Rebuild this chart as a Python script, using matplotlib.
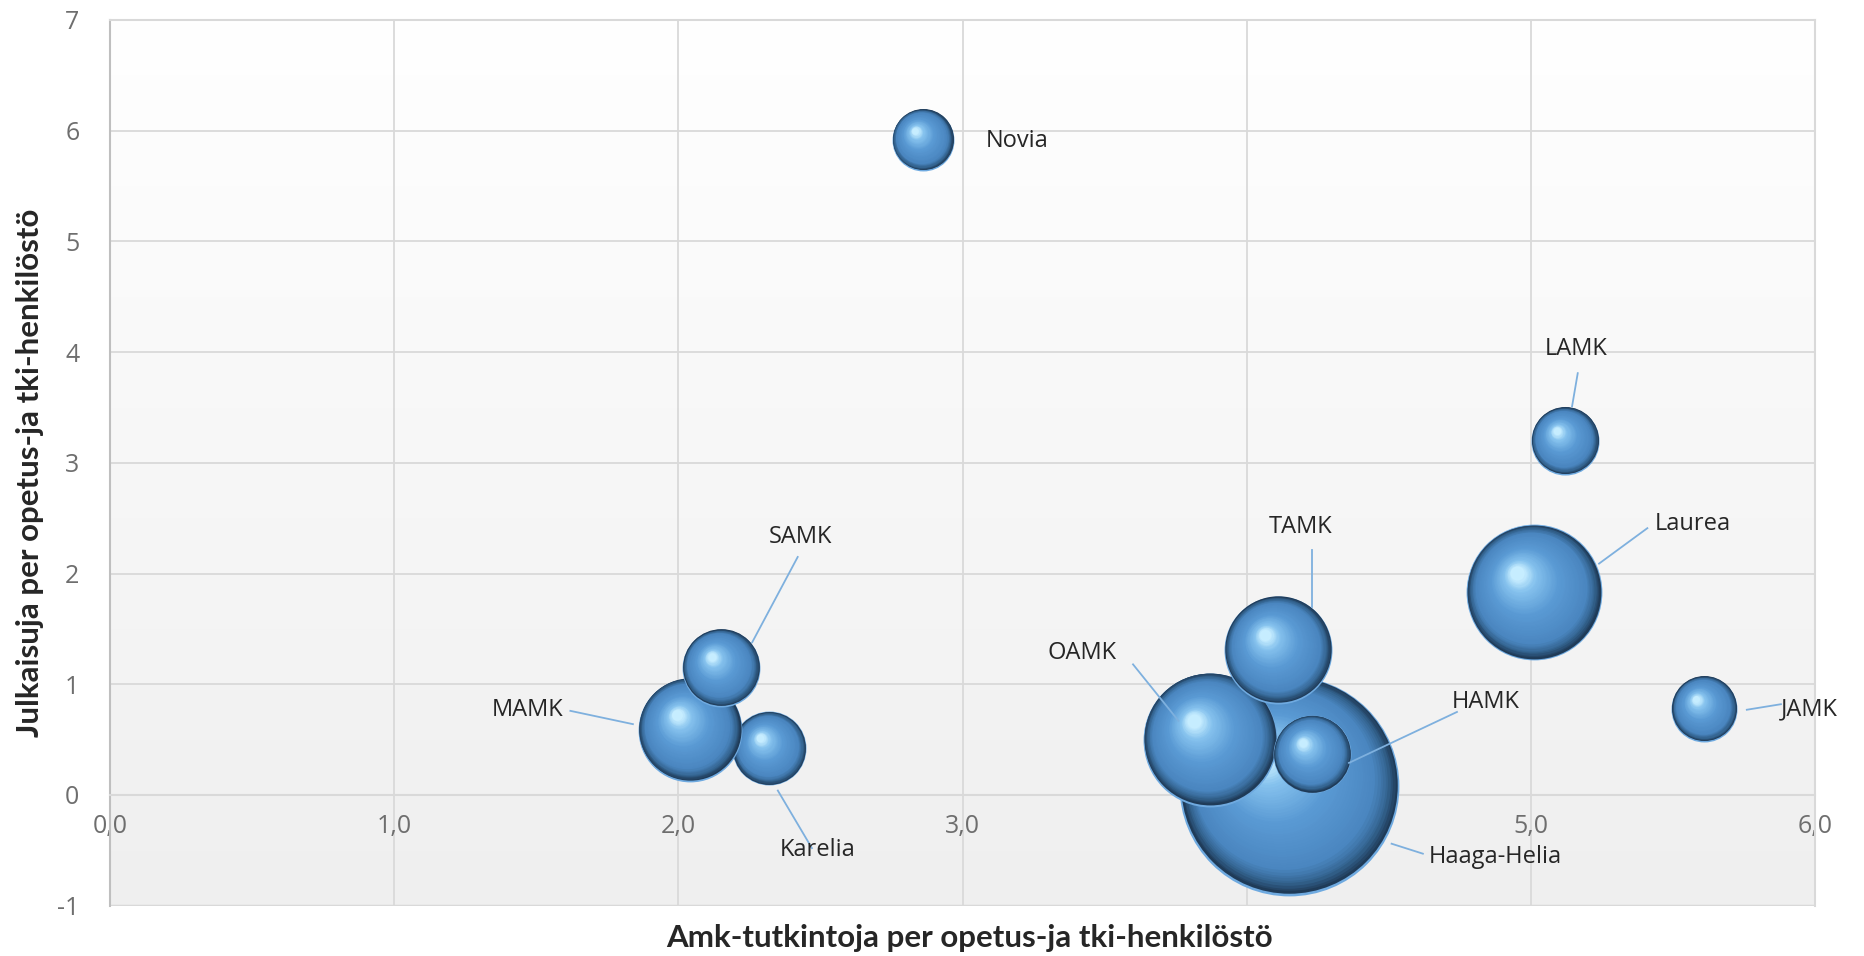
import numpy as np
import matplotlib.pyplot as plt
from matplotlib.colors import LinearSegmentedColormap
from matplotlib.transforms import offset_copy

plt.rcParams['axes.unicode_minus'] = False

# Ammattikorkeakoulut (piirtojärjestyksessä: isot taakse)
amk = ['Haaga-Helia', 'OAMK', 'TAMK', 'HAMK', 'Laurea', 'LAMK', 'JAMK', 'Novia', 'Karelia', 'MAMK', 'SAMK']
tutkinnot = [4.15, 3.87, 4.11, 4.23, 5.01, 5.12, 5.61, 2.86, 2.32, 2.04, 2.15]  # x
julkaisut = [0.08, 0.50, 1.31, 0.37, 1.83, 3.20, 0.78, 5.92, 0.42, 0.59, 1.15]  # y
henkilosto = [1210, 449, 292, 152, 462, 116, 109, 96, 137, 270, 152]       # kuplan koko

x_ticks = [0, 1, 2, 3, 4, 5, 6]
y_ticks = [-1, 0, 1, 2, 3, 4, 5, 6, 7]

# Nimilappujen paikat ja viivat (x, y, tasaus, viiva)
lappu = {
    'Novia': (3.08, 5.91, 'left', None),
    'LAMK': (5.16, 4.03, 'center', (5.165, 3.81, 5.145, 3.51)),
    'Laurea': (5.57, 2.45, 'center', (5.41, 2.41, 5.24, 2.09)),
    'JAMK': (5.88, 0.77, 'left', (5.76, 0.77, 5.88, 0.82)),
    'TAMK': (4.19, 2.42, 'center', (4.23, 2.21, 4.23, 1.70)),
    'OAMK': (3.42, 1.28, 'center', (3.60, 1.18, 3.76, 0.67)),
    'HAMK': (4.84, 0.84, 'center', (4.74, 0.75, 4.36, 0.29)),
    'Haaga-Helia': (4.64, -0.56, 'left', (4.51, -0.44, 4.62, -0.53)),
    'MAMK': (1.47, 0.77, 'center', (1.62, 0.76, 1.84, 0.64)),
    'SAMK': (2.43, 2.33, 'center', (2.42, 2.15, 2.26, 1.38)),
    'Karelia': (2.49, -0.50, 'center', (2.35, 0.04, 2.47, -0.48)),
}

fig = plt.figure(figsize=(18.65, 9.56), dpi=100)
ax = fig.add_axes([0.059, 0.0526, 0.9142, 0.9265])

# Taustan liukuväri
tausta = LinearSegmentedColormap.from_list('tausta', ['#FFFFFF', '#EFEFEF'])
ax.imshow(np.linspace(0, 1, 256).reshape(-1, 1), extent=[0, 6, -1, 7], cmap=tausta,
          aspect='auto', zorder=0)
ax.set_xlim(0, 6)
ax.set_ylim(-1, 7)

ax.set_axisbelow(True)
ax.grid(True, color='#D9D9D9', linewidth=1.3)
ax.set_xticks(x_ticks)
ax.set_yticks(y_ticks)
ax.set_xticklabels([f'{v:.1f}'.replace('.', ',') for v in x_ticks])
ax.set_yticklabels([str(v) for v in y_ticks])
ax.spines['bottom'].set_position(('data', 0))
ax.spines['bottom'].set_color('#D9D9D9')
ax.spines['top'].set_color('#D9D9D9')
ax.spines['right'].set_color('#D9D9D9')
ax.spines['left'].set_color('#BFBFBF')
for s in ax.spines.values():
    s.set_linewidth(1.5)
ax.axhline(-1, color='#D9D9D9', linewidth=2.5, zorder=1)
ax.tick_params(axis='both', length=0, labelsize=18, labelcolor='#6E6E6E')
ax.tick_params(axis='x', pad=14)
ax.tick_params(axis='y', pad=22)
for t in ax.get_xticklabels() + ax.get_yticklabels():
    t.set_family('Open Sans')

# Pallot: kerroksittain varjostettu kupla
pallo = LinearSegmentedColormap.from_list('pallo', [
    (0, '#1F3B58'), (0.07, '#33638F'), (0.18, '#4A86C0'),
    (0.55, '#5A9AD4'), (0.85, '#86C2EE'), (1, '#C6EDFF')])
koko = 20.7
for k in range(len(amk)):
    s = henkilosto[k] * koko
    r = np.sqrt(s) / 2
    z = 3 + k
    ax.scatter(tutkinnot[k], julkaisut[k], s=s, color='#6FAAE0', linewidths=0, zorder=z)
    for t in np.linspace(0, 1, 50):
        f = 0.985 - 0.88 * t
        tr = offset_copy(ax.transData, fig=fig, x=-0.24 * t * r, y=(0.012 + 0.27 * t) * r,
                         units='points')
        ax.scatter(tutkinnot[k], julkaisut[k], s=s * f * f, color=pallo(t), linewidths=0,
                   transform=tr, zorder=z)

# Nimilaput
for nimi in amk:
    lx, ly, ha, viiva = lappu[nimi]
    ax.text(lx, ly, nimi, ha=ha, va='center', fontsize=17, color='#262626',
            family='Open Sans', zorder=30)
    if viiva:
        ax.plot([viiva[0], viiva[2]], [viiva[1], viiva[3]], color='#7EB0DE',
                linewidth=1.3, zorder=29)

fig.text(0.5196, 0.019, 'Amk-tutkintoja per opetus-ja tki-henkilöstö', ha='center',
         va='center', fontsize=22.5, fontweight='bold', color='#262626', family='Lato')
fig.text(0.016, 0.505, 'Julkaisuja per opetus-ja tki-henkilöstö', ha='center',
         va='center', rotation=90, fontsize=22.5, fontweight='bold', color='#262626',
         family='Lato')

fig.savefig('out.png', dpi=100)
